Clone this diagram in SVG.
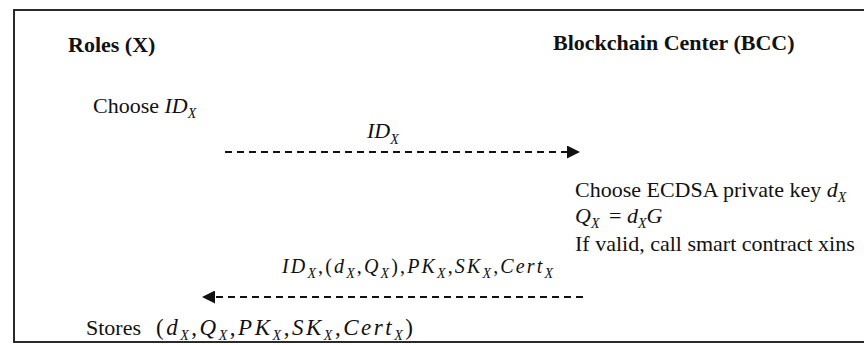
<svg xmlns="http://www.w3.org/2000/svg" width="864" height="345" viewBox="0 0 864 345">
  <style>
    text { font-family: "Liberation Serif", "Times New Roman", serif; font-size: 22px; fill: #111; }
    .head { font-weight: bold; }
    .m { font-style: italic; }
    .sub { font-style: italic; font-size: 14px; }
    .frame { fill: none; stroke: #2a2a2a; stroke-width: 2; }
    .msg { stroke: #111; stroke-width: 2; stroke-dasharray: 7 5; fill: none; }
  </style>
  <defs>
    <marker id="arrowhead" viewBox="0 0 13 13" refX="0" refY="6.5" markerWidth="13" markerHeight="13" markerUnits="userSpaceOnUse" orient="auto">
      <polygon fill="#111" points="0,0 13,6.5 0,13"/>
    </marker>
  </defs>

  <rect width="864" height="345" fill="#fff"/>
  <!-- outer frame, open on the right -->
  <path class="frame" d="M870,10 H14 V342 H870"/>

  <g id="roles">
    <text class="head" x="68" y="52">Roles (X)</text>
    <text x="93" y="113">Choose <tspan class="m">ID</tspan><tspan class="sub" dy="5">X</tspan></text>
    <text x="86" y="335">Stores</text>
    <text x="156" y="335" style="font-size:23px" textLength="257" lengthAdjust="spacing">(<tspan class="m">d</tspan><tspan class="sub" dy="5">X</tspan><tspan dy="-5">,</tspan><tspan class="m">Q</tspan><tspan class="sub" dy="5">X</tspan><tspan dy="-5">,</tspan><tspan class="m">PK</tspan><tspan class="sub" dy="5">X</tspan><tspan dy="-5">,</tspan><tspan class="m">SK</tspan><tspan class="sub" dy="5">X</tspan><tspan dy="-5">,</tspan><tspan class="m">Cert</tspan><tspan class="sub" dy="5">X</tspan><tspan dy="-5">)</tspan></text>
  </g>

  <g id="bcc">
    <text class="head" x="553" y="50">Blockchain Center (BCC)</text>
    <text x="575" y="197">Choose ECDSA private key <tspan class="m">d</tspan><tspan class="sub" dy="5">X</tspan></text>
    <text x="575" y="223"><tspan class="m">Q</tspan><tspan class="sub" dy="5">X</tspan><tspan x="609" dy="-5">=</tspan><tspan class="m" x="627">d</tspan><tspan class="sub" dy="5">X</tspan><tspan class="m" dy="-5">G</tspan></text>
    <text x="575" y="251">If valid, call smart contract xins</text>
  </g>

  <g id="connectors">
    <g id="msg-id">
      <line class="msg" x1="225" y1="152" x2="567" y2="152" marker-end="url(#arrowhead)"/>
      <text x="367" y="138"><tspan class="m">ID</tspan><tspan class="sub" dy="6">X</tspan></text>
    </g>
    <g id="msg-credentials">
      <line class="msg" x1="583" y1="297" x2="215" y2="297" marker-end="url(#arrowhead)"/>
      <text x="282" y="273" style="font-size:20px" textLength="271" lengthAdjust="spacing"><tspan class="m">ID</tspan><tspan class="sub" dy="5">X</tspan><tspan dy="-5">,(</tspan><tspan class="m">d</tspan><tspan class="sub" dy="5">X</tspan><tspan dy="-5">,</tspan><tspan class="m">Q</tspan><tspan class="sub" dy="5">X</tspan><tspan dy="-5">),</tspan><tspan class="m">PK</tspan><tspan class="sub" dy="5">X</tspan><tspan dy="-5">,</tspan><tspan class="m">SK</tspan><tspan class="sub" dy="5">X</tspan><tspan dy="-5">,</tspan><tspan class="m">Cert</tspan><tspan class="sub" dy="5">X</tspan></text>
    </g>
  </g>
</svg>
